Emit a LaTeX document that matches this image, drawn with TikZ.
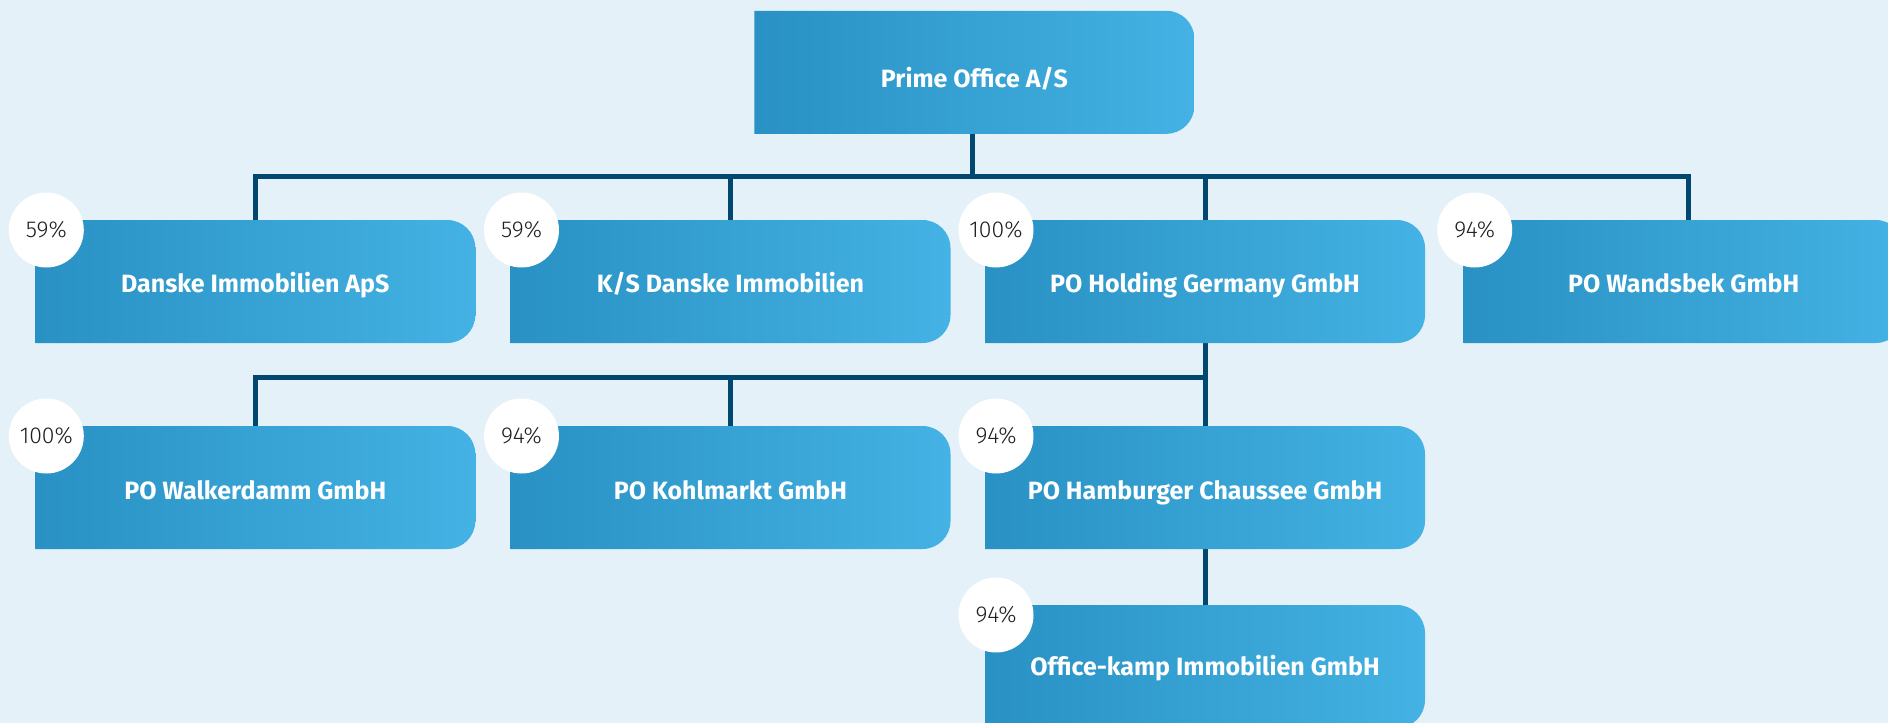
\documentclass[tikz,border=0pt]{standalone}
\usepackage{fontspec}
\setmainfont{Fira Sans}
\newfontfamily\pctfont{Fira Sans Light}
\usetikzlibrary{calc}
\definecolor{bgc}{RGB}{228,241,249}
\definecolor{boxl}{RGB}{41,145,195}
\definecolor{boxr}{RGB}{68,178,228}
\definecolor{linec}{RGB}{0,72,112}
\definecolor{pctc}{RGB}{30,30,30}
\newcommand\rr{28pt}
\tikzset{
  boxframe/.style={rectangle, minimum width=440pt, minimum height=123pt, inner sep=0pt, outer sep=0pt},
  boxlabel/.style={text=white, inner sep=0pt, anchor=base, font=\bfseries\fontsize{25}{30}\selectfont},
  pctcircle/.style={circle, fill=white, minimum size=75pt, inner sep=0pt, text=pctc, font=\pctfont\fontsize{23}{26}\selectfont},
  conn/.style={draw=linec, line width=5pt},
  boxshade/.style={left color=boxl, right color=boxr},
}
\newcommand\pobox[3]{%
  \shade[boxshade] (#1.south west) -- (#1.north west) -- ($(#1.north east)+(-\rr,0pt)$)
    arc[start angle=90,end angle=0,radius=\rr] -- ($(#1.south east)+(0pt,\rr)$)
    arc[start angle=0,end angle=-90,radius=\rr] -- cycle;
  \node[boxlabel] (#1-t) at ($(#1.center)+(0pt,-#2pt)$) {#3};
}
\newcommand\popct[2]{%
  \node[pctcircle] (#1-p) at ($(#1.north west)+(11pt,-10pt)$) {#2};
}
\begin{document}
\begin{tikzpicture}[x=1pt,y=-1pt]
  \fill[bgc] (0,0) rectangle (1888,723);
  \useasboundingbox (0,0) rectangle (1888,723);
  % frames first (for connectors)
  \node[boxframe] (root) at (974.4,72.3) {};
  \node[boxframe] (b1) at (255.3,281.5) {};
  \node[boxframe] (b2) at (730.5,281.5) {};
  \node[boxframe] (b3) at (1205,281.5) {};
  \node[boxframe] (b4) at (1683.7,281.5) {};
  \node[boxframe] (c1) at (255.3,487.5) {};
  \node[boxframe] (c2) at (730.5,487.5) {};
  \node[boxframe] (c3) at (1205,487.5) {};
  \node[boxframe] (d1) at (1205,666.5) {};
  \coordinate (bar1) at (974,176);
  \coordinate (bar2) at (1205,377);
  \coordinate (rootout) at ($(root.south)+(-2pt,0pt)$);
  \coordinate (b4in) at ($(b4.north)+(5pt,0pt)$);
  % connectors
  \draw[conn] (rootout) |- (bar1 -| b1.north) -- (b1.north);
  \draw[conn] (rootout) |- (bar1 -| b2.north) -- (b2.north);
  \draw[conn] (rootout) |- (bar1 -| b3.north) -- (b3.north);
  \draw[conn] (rootout) |- (bar1 -| b4in) -- (b4in);
  \draw[conn] (b3.south) |- (bar2 -| c1.north) -- (c1.north);
  \draw[conn] (b3.south) |- (bar2 -| c2.north) -- (c2.north);
  \draw[conn] (b3.south) -- (c3.north);
  \draw[conn] (c3.south) -- (d1.north);
  % boxes
  \pobox{root}{15}{Prime Office A/S}
  \pobox{b1}{11}{Danske Immobilien ApS}
  \pobox{b2}{11}{K/S Danske Immobilien}
  \pobox{b3}{11}{PO Holding Germany GmbH}
  \pobox{b4}{11}{PO Wandsbek GmbH}
  \pobox{c1}{12}{PO Walkerdamm GmbH}
  \pobox{c2}{12}{PO Kohlmarkt GmbH}
  \pobox{c3}{12}{PO Hamburger Chaussee GmbH}
  \pobox{d1}{9}{Office-kamp Immobilien GmbH}
  % percentages
  \popct{b1}{59\%}
  \popct{b2}{59\%}
  \popct{b3}{100\%}
  \popct{b4}{94\%}
  \popct{c1}{100\%}
  \popct{c2}{94\%}
  \popct{c3}{94\%}
  \popct{d1}{94\%}
\end{tikzpicture}
\end{document}
